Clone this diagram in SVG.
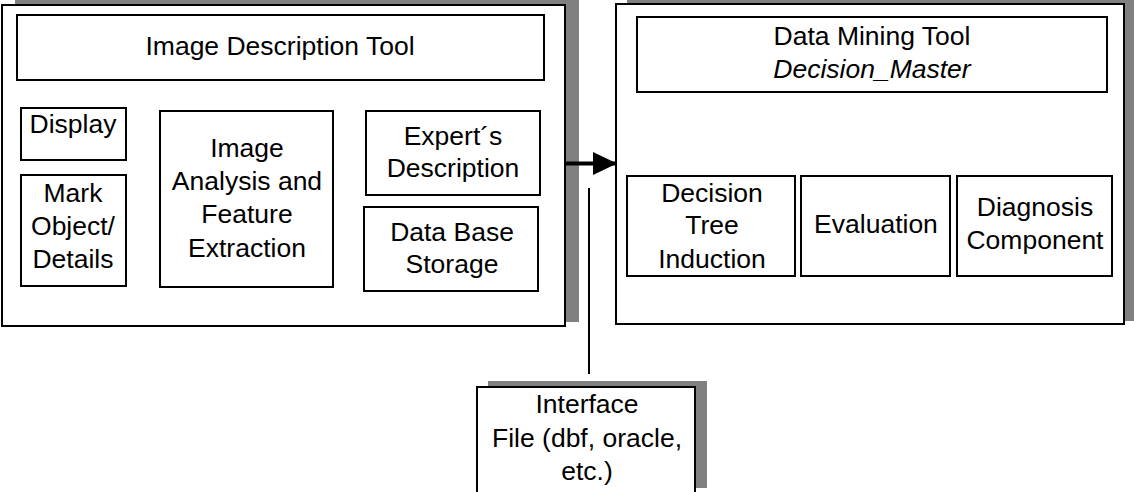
<svg xmlns="http://www.w3.org/2000/svg" width="1134" height="492" viewBox="0 0 1134 492">
<style>
.shadow{fill:#808080;stroke:none}
.box{fill:#fff;stroke:#000;stroke-width:2}
text{font-family:"Liberation Sans",Arial,sans-serif;font-size:26.5px;fill:#000;text-anchor:middle}
.it{font-style:italic}
</style>
<defs>
<marker id="ah" viewBox="0 0 24 23" refX="24" refY="11.5" markerWidth="24" markerHeight="23" markerUnits="userSpaceOnUse" orient="auto">
<path d="M0,0 L24,11.5 L0,23 Z" fill="#000"/>
</marker>
</defs>
<g id="image-description-tool">
<rect class="shadow" x="15" y="-4" width="564" height="326"/>
<rect class="box" x="2" y="5" width="563" height="321"/>
</g>
<g id="idt-title">
<rect class="box" x="17" y="15" width="527" height="65"/>
<text x="280" y="55">Image Description Tool</text>
</g>
<g id="display">
<rect class="box" x="21" y="108" width="105" height="52"/>
<text x="73" y="133">Display</text>
</g>
<g id="mark-object">
<rect class="box" x="21" y="175" width="105" height="111"/>
<text x="73" y="202">Mark</text>
<text x="73" y="235">Object/</text>
<text x="73" y="268">Details</text>
</g>
<g id="image-analysis">
<rect class="box" x="160" y="111" width="173" height="176"/>
<text x="247" y="157">Image</text>
<text x="247" y="190">Analysis and</text>
<text x="247" y="223">Feature</text>
<text x="247" y="257">Extraction</text>
</g>
<g id="experts-description">
<rect class="box" x="366" y="111" width="174" height="84"/>
<text x="453" y="145">Expert´s</text>
<text x="453" y="177">Description</text>
</g>
<g id="data-base-storage">
<rect class="box" x="364" y="207" width="174" height="84"/>
<text x="452" y="241">Data Base</text>
<text x="452" y="273">Storage</text>
</g>
<g id="data-mining-tool">
<rect class="shadow" x="627" y="-4" width="520" height="325"/>
<rect class="box" x="616" y="4" width="508" height="320"/>
</g>
<g id="dmt-title">
<rect class="box" x="637" y="17" width="470" height="75"/>
<text x="872" y="45">Data Mining Tool</text>
<text class="it" x="872" y="78">Decision_Master</text>
</g>
<g id="decision-tree-induction">
<rect class="box" x="627" y="176" width="168" height="100"/>
<text x="712" y="202">Decision</text>
<text x="712" y="234">Tree</text>
<text x="712" y="268">Induction</text>
</g>
<g id="evaluation">
<rect class="box" x="801" y="176" width="149" height="100"/>
<text x="876" y="233">Evaluation</text>
</g>
<g id="diagnosis-component">
<rect class="box" x="957" y="176" width="155" height="100"/>
<text x="1035" y="216">Diagnosis</text>
<text x="1035" y="249">Component</text>
</g>
<g id="interface-file">
<rect class="shadow" x="488" y="381" width="219" height="107"/>
<rect class="box" x="477" y="387" width="218" height="110"/>
<text x="587" y="413">Interface</text>
<text x="587" y="447">File (dbf, oracle,</text>
<text x="587" y="480">etc.)</text>
</g>
<g id="connectors">
<line x1="565" y1="163.5" x2="617" y2="163.5" stroke="#000" stroke-width="4" marker-end="url(#ah)"/>
<line x1="589" y1="188" x2="589" y2="374" stroke="#000" stroke-width="2"/>
</g>
</svg>
